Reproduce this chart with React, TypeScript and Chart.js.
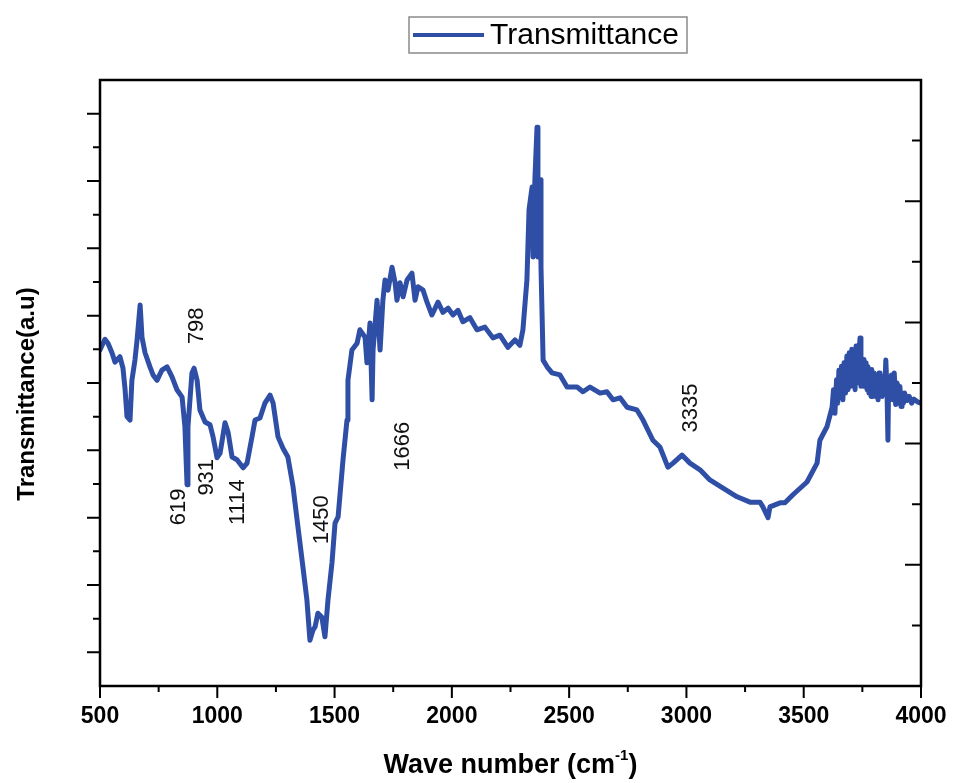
import React, { useEffect, useRef } from "react";
import { Chart, registerables } from "chart.js";

Chart.register(...registerables);

// ---- data (wave number in cm^-1, transmittance in arbitrary units) ----
// 500 – 1500 cm^-1
const waveA = [
  500, 521, 534, 551, 564, 585, 598, 607, 615, 628, 636, 649, 658, 671, 679, 692, 713, 726, 743, 764,
  786, 807, 828, 850, 862, 871, 875, 892, 901, 914, 926, 948, 969, 982, 999, 1012, 1033, 1046, 1063, 1084,
  1110, 1127, 1148, 1161, 1182, 1203, 1225, 1238, 1259, 1280, 1301, 1323, 1344, 1365, 1382, 1395, 1408, 1417, 1429, 1446,
  1459, 1472, 1489,
];
const transA = [
  49.9, 51.5, 50.9, 49.5, 48.1, 48.9, 47.2, 44.0, 40.0, 39.5, 45.4, 48.4, 51.4, 56.6, 51.8, 49.5, 47.4, 46.2, 45.4, 46.9,
  47.4, 45.9, 44.0, 42.9, 38.5, 29.9, 38.5, 46.5, 47.2, 45.4, 41.0, 39.2, 38.8, 37.0, 33.9, 34.6, 39.1, 37.7, 34.0, 33.6,
  32.4, 33.1, 37.0, 39.5, 39.8, 42.0, 43.2, 42.0, 37.0, 35.3, 34.0, 29.6, 23.6, 17.7, 12.8, 6.8, 8.3, 8.8, 10.8, 10.2,
  7.3, 12.8, 18.3,
];
// 1500 – 2400 cm^-1
const waveB = [
  1502, 1515, 1536, 1553, 1557, 1574, 1596, 1608, 1630, 1638, 1651, 1660, 1664, 1681, 1694, 1706, 1715,
  1728, 1745, 1758, 1766, 1779, 1792, 1809, 1830, 1843, 1856, 1877, 1894, 1915, 1941, 1962, 1984, 2005, 2026, 2047, 2077,
  2107, 2141, 2175, 2205, 2239, 2269, 2290, 2303, 2320, 2329, 2342, 2346, 2354, 2363, 2367, 2376, 2380, 2389,
];
const transB = [
  24.2, 25.1, 33.6, 39.5, 45.4, 49.9, 50.9, 52.9, 51.8, 48.0, 53.9, 42.5, 49.9, 57.3, 49.9, 57.3, 60.3,
  58.8, 62.2, 59.9, 57.3, 59.9, 57.8, 60.3, 61.3, 57.3, 59.3, 58.8, 57.0, 55.1, 57.0, 55.5, 56.1, 55.1, 55.8, 54.1, 54.7,
  52.9, 53.3, 51.7, 52.1, 50.3, 51.4, 50.6, 52.9, 60.3, 70.7, 74.1, 63.7, 75.2, 83.0, 63.7, 75.2, 62.2, 48.4,
];
// 2400 – 3600 cm^-1
const waveC = [
  2406, 2427, 2461, 2491, 2534, 2559, 2589, 2632, 2661, 2687, 2717, 2747, 2789, 2815, 2857, 2887, 2921, 2943, 2981, 3015,
  3058, 3100, 3156, 3216, 3271, 3314, 3326, 3348, 3356, 3399, 3420, 3454, 3514, 3557, 3569, 3599,
];
const transC = [
  47.4, 46.5, 46.2, 44.4, 44.4, 43.7, 44.4, 43.5, 43.7, 42.5, 42.8, 41.4, 41.0, 39.5, 36.5, 35.5, 32.5, 33.1, 34.3, 33.1,
  32.1, 30.6, 29.4, 28.1, 27.3, 27.3, 26.6, 25.0, 26.6, 27.2, 27.2, 28.4, 30.3, 33.1, 36.5, 38.5,
];
// 3600 – 4000 cm^-1
const waveD = [
  3621, 3627, 3633, 3640, 3645, 3650, 3655, 3661, 3667, 3672, 3678, 3684, 3689, 3694, 3700, 3705, 3710, 3715, 3719, 3723,
  3727, 3733, 3740, 3744, 3748, 3753, 3757, 3762, 3766, 3770, 3774, 3778, 3783, 3787, 3790, 3795, 3800, 3806, 3811, 3817,
  3821, 3825, 3830, 3834, 3840, 3845, 3850, 3855, 3859, 3862, 3868, 3874, 3880, 3886, 3892, 3898, 3904, 3910, 3915, 3919,
  3925, 3930, 3940, 3950, 3960, 3970, 3985, 4000,
];
const transD = [
  41.4, 44.0, 40.5, 45.5, 42.0, 46.9, 43.0, 47.5, 42.5, 48.0, 43.5, 49.0, 44.0, 49.5, 44.5, 50.0, 45.0, 49.9, 44.0, 50.5,
  45.0, 47.5, 51.7, 44.5, 47.0, 44.5, 48.5, 45.0, 48.0, 44.0, 47.4, 43.5, 47.0, 43.0, 47.0, 43.0, 46.5, 43.0, 46.0, 42.5,
  46.5, 43.5, 46.0, 43.0, 46.0, 43.5, 48.4, 44.0, 36.5, 45.0, 43.0, 46.2, 42.5, 46.5, 41.8, 45.0, 42.0, 44.5, 41.5, 43.5,
  42.0, 43.5, 42.4, 43.0, 42.0, 42.6, 42.2, 42.0,
];

const xMajorTicks = [500, 1000, 1500, 2000, 2500, 3000, 3500, 4000];
const xMinorTicks = [750, 1250, 1750, 2250, 2750, 3250, 3750];
const leftMajorTicks = [5, 15, 25, 35, 45, 55, 65, 75, 85];
const leftMinorTicks = [10, 20, 30, 40, 50, 60, 70, 80];
const rightMajorTicks = [1, 2, 3, 4];
const rightMinorTicks = [0.5, 1.5, 2.5, 3.5, 4.5];

const peakLabels = ["798", "619", "931", "1114", "1450", "1666", "3335"];
const peakLabelX = [913, 837, 956, 1088, 1446, 1792, 3019];
const peakLabelY = [53.5, 26.6, 31.0, 27.3, 24.7, 35.6, 41.3];

const seriesName = "Transmittance";
const xTitle = "Wave number (cm";
const xTitleSup = "-1";
const yTitle = "Transmittance(a.u)";

const LINE_COLOR = "#2f4fa6";
const FONT = '"Liberation Sans", Arial, Helvetica, sans-serif';

const decorPlugin = {
  id: "decor",
  afterDraw(chart: any) {
    const ctx = chart.ctx as CanvasRenderingContext2D;
    const { left, right, top, bottom } = chart.chartArea;
    const xs = chart.scales.x;
    const ys = chart.scales.y;
    const y2 = chart.scales.y2;
    ctx.save();

    // peak labels (rotated)
    ctx.fillStyle = "#111";
    ctx.font = `22px ${FONT}`;
    ctx.textAlign = "center";
    ctx.textBaseline = "middle";
    peakLabels.forEach((t, i) => {
      const px = xs.getPixelForValue(peakLabelX[i]);
      const py = ys.getPixelForValue(peakLabelY[i]);
      ctx.save();
      ctx.translate(px, py);
      ctx.rotate(-Math.PI / 2);
      ctx.fillText(t, 0, 0);
      ctx.restore();
    });

    // frame
    ctx.strokeStyle = "#000";
    ctx.lineWidth = 2.5;
    ctx.lineCap = "square";
    ctx.beginPath();
    ctx.moveTo(left, bottom);
    ctx.lineTo(left, top);
    ctx.lineTo(right, top);
    ctx.lineTo(right, bottom);
    ctx.lineTo(left, bottom);
    ctx.stroke();

    ctx.lineCap = "butt";
    ctx.lineWidth = 2;
    ctx.beginPath();
    xMajorTicks.forEach((v) => {
      const p = xs.getPixelForValue(v);
      ctx.moveTo(p, bottom);
      ctx.lineTo(p, bottom + 12);
    });
    xMinorTicks.forEach((v) => {
      const p = xs.getPixelForValue(v);
      ctx.moveTo(p, bottom);
      ctx.lineTo(p, bottom + 6);
    });
    leftMajorTicks.forEach((v) => {
      const p = ys.getPixelForValue(v);
      ctx.moveTo(left, p);
      ctx.lineTo(left - 13, p);
    });
    leftMinorTicks.forEach((v) => {
      const p = ys.getPixelForValue(v);
      ctx.moveTo(left, p);
      ctx.lineTo(left - 7, p);
    });
    rightMajorTicks.forEach((v) => {
      const p = y2.getPixelForValue(v);
      ctx.moveTo(right, p);
      ctx.lineTo(right - 16, p);
    });
    rightMinorTicks.forEach((v) => {
      const p = y2.getPixelForValue(v);
      ctx.moveTo(right, p);
      ctx.lineTo(right - 9, p);
    });
    ctx.stroke();

    // x tick labels
    ctx.fillStyle = "#000";
    ctx.font = `bold 23px ${FONT}`;
    ctx.textAlign = "center";
    ctx.textBaseline = "middle";
    xMajorTicks.forEach((v) => {
      ctx.fillText(String(v), xs.getPixelForValue(v), bottom + 31);
    });

    // x title with superscript
    const mainFont = `bold 27px ${FONT}`;
    const supFont = `bold 15px ${FONT}`;
    ctx.font = mainFont;
    const w1 = ctx.measureText(xTitle).width;
    const w3 = ctx.measureText(")").width;
    ctx.font = supFont;
    const w2 = ctx.measureText(xTitleSup).width;
    const total = w1 + w2 + w3;
    let cx = (left + right) / 2 - total / 2;
    const base = bottom + 87;
    ctx.textAlign = "left";
    ctx.textBaseline = "alphabetic";
    ctx.font = mainFont;
    ctx.fillText(xTitle, cx, base);
    cx += w1;
    ctx.font = supFont;
    ctx.fillText(xTitleSup, cx, base - 13);
    cx += w2;
    ctx.font = mainFont;
    ctx.fillText(")", cx, base);

    // y title
    ctx.save();
    ctx.translate(27, (top + bottom) / 2 + 11);
    ctx.rotate(-Math.PI / 2);
    ctx.font = `bold 24px ${FONT}`;
    ctx.textAlign = "center";
    ctx.textBaseline = "middle";
    ctx.fillText(yTitle, 0, 0);
    ctx.restore();

    // legend
    ctx.strokeStyle = "#8a8a8a";
    ctx.lineWidth = 1.5;
    ctx.strokeRect(409, 17, 278, 36);
    ctx.strokeStyle = LINE_COLOR;
    ctx.lineWidth = 4;
    ctx.beginPath();
    ctx.moveTo(413, 35);
    ctx.lineTo(484, 35);
    ctx.stroke();
    ctx.fillStyle = "#000";
    ctx.font = `30px ${FONT}`;
    ctx.textAlign = "left";
    ctx.textBaseline = "middle";
    ctx.fillText(seriesName, 490, 36);

    ctx.restore();
  },
};

export default function App() {
  const ref = useRef<HTMLCanvasElement | null>(null);
  useEffect(() => {
    document.body.style.margin = "0";
    const canvas = ref.current;
    if (!canvas) return;
    const waves = [...waveA, ...waveB, ...waveC, ...waveD];
    const trans = [...transA, ...transB, ...transC, ...transD];
    const points = waves.map((x, i) => ({ x, y: trans[i] }));
    const chart = new Chart(canvas, {
      type: "line",
      data: {
        datasets: [
          {
            label: seriesName,
            data: points,
            borderColor: LINE_COLOR,
            backgroundColor: LINE_COLOR,
            borderWidth: 5,
            pointRadius: 0,
            tension: 0,
            borderJoinStyle: "round",
            borderCapStyle: "round",
          },
        ],
      },
      options: {
        responsive: false,
        animation: false,
        layout: { padding: { left: 100, right: 32, top: 80, bottom: 97 } },
        plugins: { legend: { display: false }, tooltip: { enabled: false } },
        scales: {
          x: { type: "linear", min: 500, max: 4000, display: false },
          y: { type: "linear", min: 0, max: 90, display: false },
          y2: { type: "linear", min: 0, max: 5, display: false, position: "right" },
        },
      },
      plugins: [decorPlugin],
    });
    return () => chart.destroy();
  }, []);
  return (
    <div style={{ width: 953, height: 783, background: "#fff" }}>
      <canvas ref={ref} width={953} height={783} style={{ display: "block" }} />
    </div>
  );
}
